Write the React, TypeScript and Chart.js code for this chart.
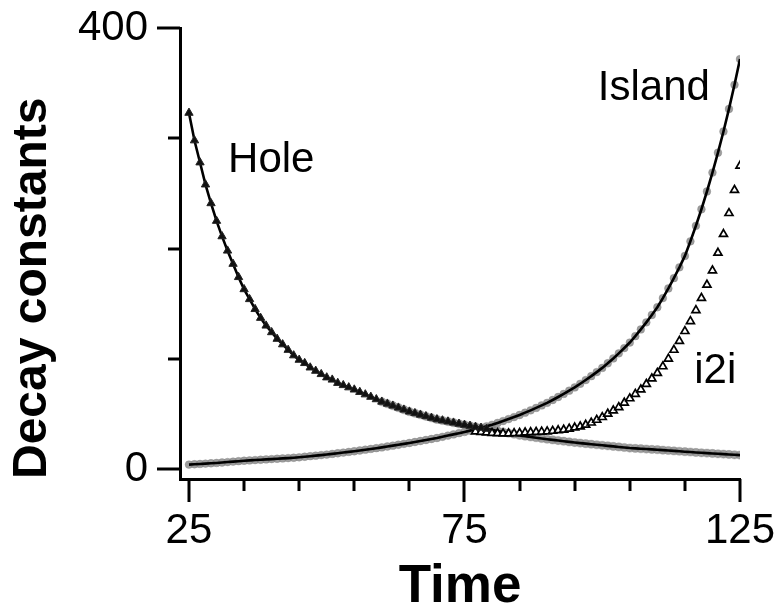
import React, { useEffect, useRef } from 'react';
import { Chart, registerables } from 'chart.js';

Chart.register(...registerables);

// ---- data ----
const T_START = 25; // first time value of the Hole / Island series, step 1
const holeValues = [
  323, 298, 278, 258, 241, 225, 211, 198, 186, 174,
  163, 154, 145, 137, 130, 124, 118, 113, 108, 103,
  99, 96, 92, 89, 86, 83, 81, 78, 76, 74,
  72, 69.8, 67.6, 65.4, 63.2, 61, 59.2, 57.4, 55.6, 53.8,
  52, 50.6, 49.2, 47.8, 46.4, 45, 44, 43, 42, 41,
  40, 39.1, 38.2, 37.3, 36.4, 35.5, 34.5, 33.5, 32.5, 31.5,
  30.5, 29.8, 29.1, 28.4, 27.7, 27, 26.4, 25.8, 25.2, 24.6,
  24, 23.5, 23, 22.5, 22, 21.5, 21, 20.5, 20, 19.5,
  19, 18.7, 18.4, 18.1, 17.8, 17.5, 17.1, 16.8, 16.4, 16.1,
  15.7, 15.4, 15, 14.7, 14.4, 14.1, 13.8, 13.5, 13.2, 12.9, 12.6,
];
const islandValues = [
  4.0, 4.3, 4.6, 4.9, 5.2, 5.5, 5.9, 6.3, 6.7, 7.1,
  7.5, 7.8, 8.1, 8.4, 8.7, 9.0, 9.3, 9.6, 9.9, 10.2,
  10.6, 11.1, 11.6, 12.1, 12.6, 13.1, 13.7, 14.3, 14.9, 15.5,
  16.1, 16.8, 17.5, 18.2, 18.9, 19.6, 20.4, 21.2, 22.0, 22.8,
  23.6, 24.5, 25.4, 26.3, 27.2, 28.1, 29.2, 30.3, 31.4, 32.5,
  33.6, 34.8, 36.1, 37.4, 38.7, 40.1, 41.8, 43.5, 45.3, 47.1,
  49.0, 51.1, 53.2, 55.4, 57.7, 60.0, 62.6, 65.3, 68.1, 71.0,
  74.0, 77.3, 80.7, 84.2, 87.9, 91.7, 95.9, 100.3, 104.9, 109.7,
  114.7, 120.5, 126.6, 133.0, 139.7, 146.7, 155.0, 163.8, 173.1, 182.9,
  193.3, 206.5, 220.6, 235.6, 251.7, 268.9, 286.9, 306.1, 326.6, 348.5, 371.8,
];
const I2I_START = 77; // first time value of the i2i series, step 1
const i2iValues = [
  34, 33.5, 33, 32.6, 32.3, 32.2, 32.2, 32.3, 32.6, 33,
  33.2, 33.5, 33.8, 34, 34.5, 35, 35.5, 36.5, 37.5, 38.5,
  40, 42, 44.5, 47, 50, 53, 56, 60, 64, 68,
  72, 77, 82, 87, 93, 100, 108, 116, 125, 134,
  144, 155, 167, 180, 196, 213, 232, 253, 275,
];
const HOLE_TRIANGLE_END = 79; // filled triangles up to here
const HOLE_GRAY_START = 60; // grey data points from here

const xTickLabels = [25, 75, 125];
const xMinorTicks = [35, 45, 55, 65, 85, 95, 105, 115];
const yTickLabels = [0, 400];
const yMinorTicks = [100, 200, 300];

const seriesLabels = ['Hole', 'Island', 'i2i'];
const labelAnchors = [
  { t: 32.1, v: 269 },
  { t: 99.2, v: 335 },
  { t: 116.7, v: 78 },
];

const FONT = "'Liberation Sans', Arial, Helvetica, sans-serif";

const toPoints = (start: number, values: number[]) =>
  values.map((v, i) => ({ x: start + i, y: v }));

const noPadding = (s: any) => {
  s.paddingTop = 0;
  s.paddingBottom = 0;
  s.paddingLeft = 0;
  s.paddingRight = 0;
};

const decorPlugin = {
  id: 'decor',
  afterDraw(chart: any) {
    const { ctx } = chart;
    const xs = chart.scales.x;
    const ys = chart.scales.y;
    ctx.save();
    ctx.strokeStyle = '#000';
    ctx.lineWidth = 3;
    ctx.lineCap = 'butt';
    const yAxisX = xs.left;
    const xAxisY = ys.bottom;
    const tick = (x1: number, y1: number, x2: number, y2: number) => {
      ctx.beginPath();
      ctx.moveTo(x1, y1);
      ctx.lineTo(x2, y2);
      ctx.stroke();
    };
    xTickLabels.forEach((t) => {
      const p = Math.round(xs.getPixelForValue(t));
      tick(p, xAxisY, p, xAxisY + 23);
    });
    xMinorTicks.forEach((t) => {
      const p = Math.round(xs.getPixelForValue(t));
      tick(p, xAxisY, p, xAxisY + 12);
    });
    yTickLabels.forEach((v) => {
      const p = Math.round(ys.getPixelForValue(v));
      tick(yAxisX, p, yAxisX - 23, p);
    });
    yMinorTicks.forEach((v) => {
      const p = Math.round(ys.getPixelForValue(v));
      tick(yAxisX, p, yAxisX - 12, p);
    });
    ctx.fillStyle = '#000';
    ctx.font = `42px ${FONT}`;
    ctx.textAlign = 'left';
    ctx.textBaseline = 'alphabetic';
    seriesLabels.forEach((s, i) => {
      const a = labelAnchors[i];
      ctx.fillText(s, xs.getPixelForValue(a.t), ys.getPixelForValue(a.v));
    });
    ctx.restore();
  },
};

export default function App() {
  const ref = useRef<HTMLCanvasElement | null>(null);

  useEffect(() => {
    if (!ref.current) return;
    const holeAll = toPoints(T_START, holeValues);
    const islandAll = toPoints(T_START, islandValues);
    const i2iAll = toPoints(I2I_START, i2iValues);

    const chart = new Chart(ref.current, {
      type: 'scatter',
      data: {
        datasets: [
          {
            label: 'Island data',
            data: islandAll,
            showLine: false,
            pointRadius: 3.9,
            pointBackgroundColor: 'rgba(140,140,140,0.85)',
            pointBorderColor: 'rgba(120,120,120,0.6)',
            pointBorderWidth: 0.5,
            order: 5,
          },
          {
            label: 'Hole data (late)',
            data: holeAll.filter((p) => p.x >= HOLE_GRAY_START),
            showLine: false,
            pointRadius: 4.1,
            pointBackgroundColor: 'rgba(140,140,140,0.85)',
            pointBorderColor: 'rgba(120,120,120,0.6)',
            pointBorderWidth: 0.5,
            order: 5,
          },
          {
            label: 'Island',
            data: islandAll,
            showLine: true,
            borderColor: '#000',
            borderWidth: 2.6,
            pointRadius: 0,
            tension: 0,
            order: 2,
          },
          {
            label: 'Hole',
            data: holeAll,
            showLine: true,
            borderColor: '#000',
            borderWidth: 2.6,
            pointRadius: 0,
            tension: 0,
            order: 2,
          },
          {
            label: 'Hole data',
            data: holeAll.filter((p) => p.x <= HOLE_TRIANGLE_END),
            showLine: false,
            pointStyle: 'triangle',
            pointRadius: 4.8,
            pointBackgroundColor: '#111',
            pointBorderColor: '#222',
            pointBorderWidth: 1,
            order: 0,
          },
          {
            label: 'i2i',
            data: i2iAll,
            showLine: false,
            pointStyle: 'triangle',
            pointRadius: 4.6,
            pointBackgroundColor: '#fff',
            pointBorderColor: '#000',
            pointBorderWidth: 1.7,
            order: 0,
          },
        ],
      },
      options: {
        animation: false,
        responsive: false,
        maintainAspectRatio: false,
        layout: { padding: { top: 28, right: 37, left: 0, bottom: 0 } },
        plugins: { legend: { display: false }, tooltip: { enabled: false } },
        scales: {
          x: {
            type: 'linear',
            min: 23.37,
            max: 125,
            grid: { display: false, drawTicks: false },
            border: { display: true, color: '#000', width: 3 },
            afterBuildTicks: (s: any) => {
              s.ticks = xTickLabels.map((v) => ({ value: v }));
            },
            afterFit: (s: any) => {
              s.height = 135;
              noPadding(s);
            },
            ticks: {
              autoSkip: false,
              maxRotation: 0,
              padding: 27,
              color: '#000',
              font: { family: FONT, size: 42 },
              callback: (v: any) => String(v),
            },
            title: {
              display: true,
              text: 'Time',
              color: '#000',
              font: { family: FONT, size: 53, weight: 'bold', lineHeight: 1 },
              padding: { top: 0, bottom: 0 },
            },
          },
          y: {
            type: 'linear',
            min: -9.07,
            max: 400,
            grid: { display: false, drawTicks: false },
            border: { display: true, color: '#000', width: 3 },
            afterBuildTicks: (s: any) => {
              s.ticks = yTickLabels.map((v) => ({ value: v }));
            },
            afterFit: (s: any) => {
              s.width = 180;
              noPadding(s);
            },
            ticks: {
              autoSkip: false,
              padding: 32,
              color: '#000',
              font: { family: FONT, size: 42 },
              callback: (v: any) => String(v),
            },
            title: {
              display: true,
              text: 'Decay constants',
              align: 'start',
              color: '#000',
              font: { family: FONT, size: 48, weight: 'bold', lineHeight: 1 },
              padding: { top: 9, bottom: 0 },
            },
          },
        },
      },
      plugins: [decorPlugin],
    } as any);

    return () => chart.destroy();
  }, []);

  return (
    <div style={{ position: 'absolute', left: 0, top: 0, width: 777, height: 614, background: '#fff' }}>
      <canvas ref={ref} width={777} height={614} style={{ width: 777, height: 614 }} />
    </div>
  );
}
